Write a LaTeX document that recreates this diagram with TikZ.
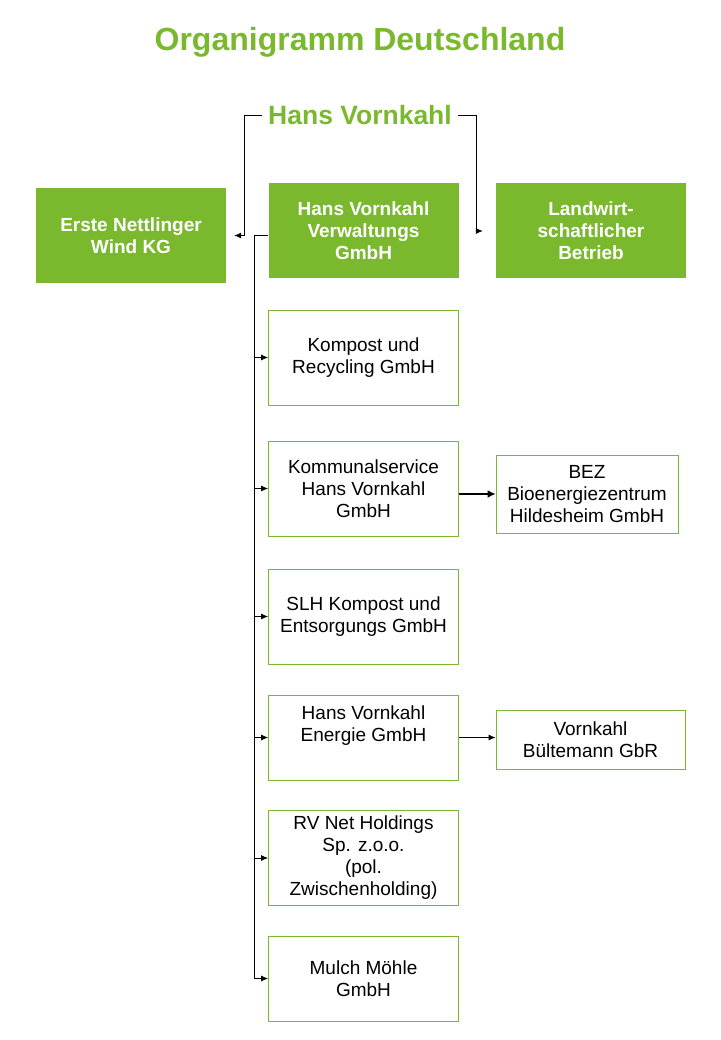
\documentclass[tikz,border=0pt]{standalone}
\usepackage{fontspec}
\setmainfont{Liberation Sans}
\usetikzlibrary{arrows.meta}
\definecolor{orggreen}{RGB}{122,184,46}
\tikzset{
  greenbox/.style={fill=orggreen, text=white, font=\bfseries\fontsize{19}{22}\selectfont,
    minimum width=190pt, minimum height=95pt, align=center, inner sep=0pt},
  whitebox/.style={draw=orggreen, line width=0.8pt, fill=white, font=\fontsize{19}{22}\selectfont,
    minimum width=190pt, minimum height=95pt, align=center, inner sep=0pt},
  link/.style={line width=0.8pt, -{Latex[length=7pt,width=6pt]}}
}
\begin{document}
\begin{tikzpicture}[x=1pt,y=-1pt]
    \useasboundingbox (0,0) rectangle (720,1040);
    
    \node[text=orggreen, font=\bfseries\fontsize{32}{38}\selectfont] (title) at (360,42) {Organigramm Deutschland};
    \node[text=orggreen, font=\bfseries\fontsize{26.5}{30}\selectfont, inner sep=6pt] (owner) at (360,115) {Hans Vornkahl};
    
    % top row
    \node[greenbox] (wind) at (131,235.5) {Erste Nettlinger\\Wind KG};
    \node[greenbox] (verw) at (363.5,231) {Hans Vornkahl\\Verwaltungs\\GmbH};
    \node[greenbox] (landw) at (591,231) {Landwirt-\\schaftlicher\\Betrieb};
    
    % subsidiaries
    \node[whitebox] (kompost) at (363.5,357.5) {Kompost und\\Recycling GmbH};
    \node[whitebox] (kommunal) at (363.5,488.5) {Kommunalservice\\Hans Vornkahl\\GmbH};
    \node[whitebox, minimum width=182pt, minimum height=78pt] (bez) at (587,494) {BEZ\\Bioenergiezentrum\\Hildesheim GmbH};
    \node[whitebox] (slh) at (363.5,616.5) {SLH Kompost und\\Entsorgungs GmbH};
    \node[whitebox, minimum height=85pt] (energie) at (363.5,737.5) {Hans Vornkahl\\Energie GmbH\\\strut};
    \node[whitebox, minimum width=189pt, minimum height=59pt] (buelte) at (590.5,739.5) {Vornkahl\\Bültemann GbR};
    \node[whitebox] (rvnet) at (363.5,858) {RV Net Holdings\\Sp. z.o.o.\\(pol.\\Zwischenholding)};
    \node[whitebox, minimum height=85pt] (mulch) at (363.5,978.5) {Mulch Möhle\\GmbH};
    
    % owner
    \draw[link] (owner.west) -- ++(-18,0) |- ([xshift=8pt]wind.east);
    \draw[link] (owner.east) -- ++(18,0) |- ([xshift=-13pt]landw.west);
    
    % trunk
    \draw[line width=0.8pt] ([yshift=-4pt]verw.west) -- ++(-14,0) coordinate (trunk) -- (trunk |- mulch.west);
    \foreach \c in {kompost,kommunal,slh,energie,rvnet,mulch}
        \draw[link] (trunk) |- (\c.west);
    
    \draw[line width=2.4pt, -{Latex[length=8pt,width=8pt]}] (kommunal.east |- bez.west) -- (bez.west);
    \draw[link] (energie.east) -- (energie.east -| buelte.west);
\end{tikzpicture}
\end{document}
